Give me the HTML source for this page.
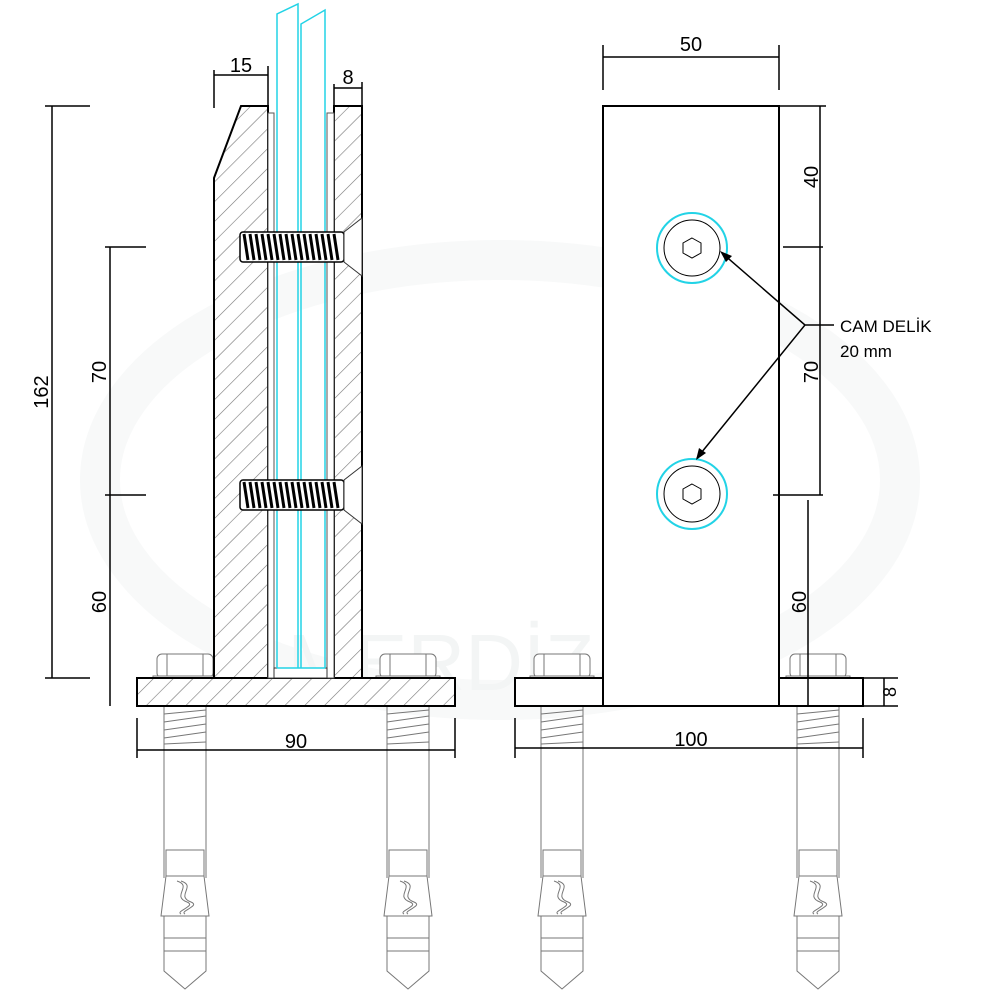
<!DOCTYPE html>
<html><head><meta charset="utf-8"><style>
html,body{margin:0;padding:0;background:#fff}
svg{display:block}
text{font-family:"Liberation Sans",sans-serif;fill:#000}
</style></head><body>
<svg width="1000" height="1000" viewBox="0 0 1000 1000" xmlns="http://www.w3.org/2000/svg">
<defs>
<pattern id="h" width="14" height="14" patternUnits="userSpaceOnUse" patternTransform="rotate(45)">
<rect width="14" height="14" fill="#fff"/>
<line x1="0" y1="0" x2="0" y2="14" stroke="#777" stroke-width="1.2"/>
</pattern>
<g id="anchor" fill="none" stroke="#777" stroke-width="1">
<rect x="-28" y="-52" width="56" height="24" rx="5" fill="#fff"/>
<rect x="-18" y="-52" width="36" height="24" fill="#fff"/>
<rect x="-32" y="-30" width="64" height="4" fill="#fff"/>
<path d="M-21,0 V172 M21,0 V172"/>
<path d="M-21,-22 L21,-26 M-21,-14 L21,-18 M-21,-6 L21,-10 M-21,8 L21,4 M-21,16 L21,10 M-21,24 L21,18 M-21,32 L21,26 M-21,38 L21,36"/>
<rect x="-19" y="144" width="38" height="26" fill="#fff"/>
<path d="M-19,170 L-24,210 H24 L19,170"/>
<path d="M-8,175 C8,180 -14,190 2,196 C12,200 -10,205 -4,208 M-4,175 C12,180 -10,190 6,196 C16,200 -6,205 0,208"/>
<path d="M-21,210 V265 L0,283 L21,265 V210 M-21,232 H21 M-21,245 H21"/>
</g>
<g id="bolt">
<rect x="0" y="0" width="104" height="30" fill="#fff" stroke="#000" stroke-width="1.5" rx="3"/>
<path d="M4,2 l4,26 M10,2 l4,26 M16,2 l4,26 M22,2 l4,26 M28,2 l4,26 M34,2 l4,26 M40,2 l4,26 M46,2 l4,26 M52,2 l4,26 M58,2 l4,26 M64,2 l4,26 M70,2 l4,26 M76,2 l4,26 M82,2 l4,26 M88,2 l4,26 M94,2 l4,26" stroke="#000" stroke-width="3"/>
<path d="M104,0 L122,-14 V44 L104,30 Z" fill="#fff" stroke="#333" stroke-width="1"/>
</g>
</defs>

<!-- very faint watermark -->
<ellipse cx="500" cy="480" rx="400" ry="220" fill="none" stroke="#f8f9f9" stroke-width="40"/>
<text x="520" y="690" font-size="80" font-family="Liberation Serif" style="fill:#f3f5f5" text-anchor="middle">MERDİZAYN</text>

<!-- LEFT VIEW -->
<use href="#anchor" x="185" y="706"/>
<use href="#anchor" x="408" y="706"/>
<rect x="137" y="678" width="318" height="28" fill="url(#h)" stroke="#000" stroke-width="2"/>
<polygon points="214,178 241,106 268,106 268,678 214,678" fill="url(#h)" stroke="#000" stroke-width="2"/>
<rect x="334" y="106" width="28" height="572" fill="url(#h)" stroke="#000" stroke-width="2"/>
<rect x="268" y="113" width="6" height="565" fill="#fff" stroke="#555" stroke-width="1"/>
<rect x="327" y="113" width="7" height="565" fill="#fff" stroke="#555" stroke-width="1"/>
<rect x="274" y="668" width="53" height="10" fill="#fff" stroke="#333" stroke-width="1"/>
<g fill="none" stroke="#22d3e6" stroke-width="1.5">
<path d="M277,668 V14 L298,4 V668"/>
<path d="M301,668 V24 L325,10 V668"/>
<path d="M277,668 H325"/>
</g>
<use href="#bolt" x="240" y="232"/>
<use href="#bolt" x="240" y="480"/>

<g stroke="#000" stroke-width="1.5" fill="none">
<path d="M214,70 V108 M268,66 V106 M214,75 H268"/>
<path d="M334,84 V106 M362,82 V106 M334,88 H362"/>
<path d="M45,106 H90 M45,678 H90 M52,106 V678"/>
<path d="M105,247 H146 M105,495 H146 M110,247 V706"/>
<path d="M137,718 V758 M455,718 V758 M137,750 H455"/>
</g>
<text x="241" y="72" font-size="20" text-anchor="middle">15</text>
<text x="348" y="84" font-size="20" text-anchor="middle">8</text>
<text x="296" y="748" font-size="20" text-anchor="middle">90</text>
<text transform="translate(48,392) rotate(-90)" font-size="20" text-anchor="middle">162</text>
<text transform="translate(106,372) rotate(-90)" font-size="20" text-anchor="middle">70</text>
<text transform="translate(106,602) rotate(-90)" font-size="20" text-anchor="middle">60</text>

<!-- RIGHT VIEW -->
<use href="#anchor" x="562" y="706"/>
<use href="#anchor" x="818" y="706"/>
<rect x="515" y="678" width="348" height="28" fill="#fff" stroke="#000" stroke-width="2"/>
<rect x="603" y="106" width="176" height="600" fill="#fff" stroke="#000" stroke-width="2"/>
<g fill="none">
<circle cx="692" cy="248" r="35" stroke="#22d3e6" stroke-width="2"/>
<circle cx="692" cy="248" r="28" stroke="#000" stroke-width="1"/>
<polygon points="692,238 701,243 701,253 692,258 683,253 683,243" stroke="#000" stroke-width="1"/>
<circle cx="692" cy="494" r="35" stroke="#22d3e6" stroke-width="2"/>
<circle cx="692" cy="494" r="28" stroke="#000" stroke-width="1"/>
<polygon points="692,484 701,489 701,499 692,504 683,499 683,489" stroke="#000" stroke-width="1"/>
</g>
<g stroke="#000" stroke-width="1.5" fill="none">
<path d="M603,45 V90 M779,45 V90 M603,57 H779"/>
<path d="M779,106 H826 M783,247 H823 M773,495 H823 M820,106 V495"/>
<path d="M808,500 V706"/>
<path d="M863,678 H898 M863,706 H898 M884,678 V706"/>
<path d="M515,718 V758 M863,718 V758 M515,748 H863"/>
<path d="M722,253 L805,325 L697,458 M805,325 H834"/>
</g>
<polygon points="720,251 732,256 726,262" fill="#000"/>
<polygon points="696,460 699,448 706,453" fill="#000"/>
<text x="691" y="51" font-size="20" text-anchor="middle">50</text>
<text x="691" y="746" font-size="20" text-anchor="middle">100</text>
<text transform="translate(818,177) rotate(-90)" font-size="20" text-anchor="middle">40</text>
<text transform="translate(818,372) rotate(-90)" font-size="20" text-anchor="middle">70</text>
<text transform="translate(806,602) rotate(-90)" font-size="20" text-anchor="middle">60</text>
<text transform="translate(896,692) rotate(-90)" font-size="18" text-anchor="middle">8</text>
<text x="840" y="332" font-size="17">CAM DELİK</text>
<text x="840" y="357" font-size="17">20 mm</text>
</svg>
</body></html>
